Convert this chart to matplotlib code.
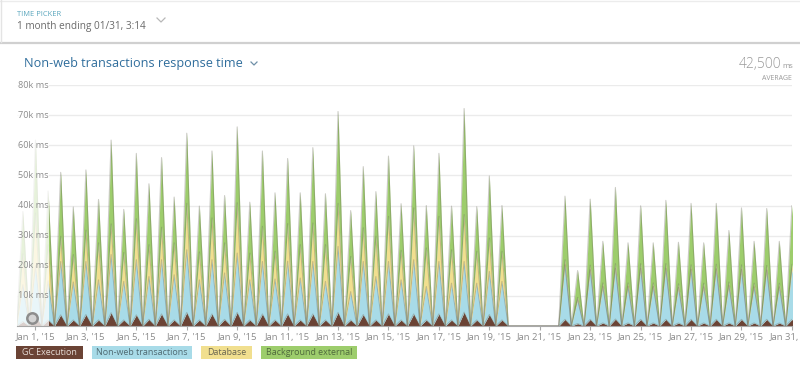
import matplotlib.pyplot as plt
import matplotlib.dates as mdates
from matplotlib.patches import Rectangle
from matplotlib.lines import Line2D
import numpy as np
import pandas as pd

plt.rcParams['font.family'] = ['Open Sans', 'DejaVu Sans']

W, H = 800, 365

# peaks come every 12 hours; the app was down between Jan 19 and Jan 22
times_a = pd.date_range('2014-12-31 12:00', periods=39, freq='12h')
times_b = pd.date_range('2015-01-22 00:00', periods=19, freq='12h')
# 6-hourly timeline, the troughs between peaks sit at 0
timeline = pd.date_range('2014-12-31 06:00', '2015-01-31 06:00', freq='6h')

# response time per peak, in k ms
gc_a = [1.5, 3.5, 2.0, 3.7, 2.0, 3.8, 2.0, 4.4, 2.0, 3.7, 2.2, 4.0, 2.0, 4.5, 2.0, 4.0,
        2.2, 4.5, 2.0, 4.0, 2.0, 4.0, 2.0, 4.0, 2.0, 4.5, 2.0, 3.8, 2.0, 4.0, 2.0, 4.0,
        2.0, 4.0, 2.0, 4.6, 2.0, 3.8, 2.0]
nonweb_a = [12.2, 16.5, 13.0, 17.7, 12.6, 17.6, 13.3, 19.3, 12.8, 18.3, 14.2, 18.0, 15.0,
            20.8, 13.3, 18.0, 15.4, 19.7, 13.3, 17.4, 13.6, 17.5, 13.9, 17.4, 12.8, 21.9,
            9.4, 17.6, 14.4, 17.4, 13.3, 18.0, 11.1, 17.4, 12.2, 16.8, 12.2, 14.3, 12.8]
db_a = [10.3, 17.5, 12.0, 8.4, 9.1, 10.4, 12.3, 10.2, 9.6, 13.6, 10.6, 10.8, 10.6, 15.4,
        9.3, 13.9, 10.0, 16.7, 8.9, 11.7, 9.2, 12.5, 11.1, 12.8, 12.2, 14.3, 11.7, 11.2,
        13.4, 15.0, 9.8, 17.2, 12.8, 15.0, 11.1, 15.6, 10.6, 11.1, 10.0]
bg_a = [14.0, 24.2, 17.8, 21.2, 15.8, 20.0, 14.4, 27.8, 14.3, 21.7, 20.2, 23.1, 15.2, 23.3,
        15.2, 22.2, 15.7, 25.2, 16.9, 25.0, 19.4, 21.6, 17.2, 25.0, 16.9, 30.5, 15.2, 20.3,
        14.8, 20.0, 15.5, 20.6, 14.1, 20.9, 14.5, 35.2, 14.8, 20.6, 15.2]

gc_b = [2.2, 0.8, 2.2, 1.0, 2.3, 1.0, 2.2, 1.0, 2.2, 1.0, 2.2, 1.0, 2.2, 1.0, 2.2, 1.0,
        2.2, 1.0, 2.2]
nonweb_b = [18.1, 7.9, 16.5, 12.1, 16.9, 12.1, 17.0, 12.1, 17.0, 11.8, 16.6, 12.0, 16.8,
            12.4, 16.6, 12.0, 16.4, 12.0, 16.8]
db_b = [1.7, 0.8, 1.5, 1.2, 1.5, 1.2, 1.5, 1.2, 1.5, 1.2, 1.5, 1.2, 1.5, 1.2, 1.5, 1.2,
        1.5, 1.2, 1.5]
bg_b = [21.1, 8.9, 21.9, 13.8, 25.3, 13.3, 19.2, 13.3, 21.0, 13.8, 20.4, 13.4, 20.2, 17.1,
        18.9, 13.9, 18.9, 13.9, 19.5]

names = ['GC Execution', 'Non-web transactions', 'Database', 'Background external']
colors = ['#6b4335', '#a8dbe8', '#f1df8f', '#9dcd6c']
label_colors = ['#e6dcd6', '#4f6a72', '#6a6650', '#4f6a3c']

y_levels = [10, 20, 30, 40, 50, 60, 70, 80]
tick_days = pd.date_range('2015-01-01', '2015-01-31', freq='2D')


def series(a, b):
    s = pd.Series(a + b, index=times_a.append(times_b))
    return s.reindex(timeline, fill_value=0.0).values


layers = [series(gc_a, gc_b), series(nonweb_a, nonweb_b),
          series(db_a, db_b), series(bg_a, bg_b)]
tops = np.cumsum(layers, axis=0)
x = timeline.to_pydatetime()


def fx(px):
    return px / W


def fy(py):
    return 1 - py / H


fig = plt.figure(figsize=(W / 100, H / 100), dpi=100)
fig.patch.set_facecolor('white')

ax = fig.add_axes([fx(17), fy(326), 775 / W, 241 / H])
bottom = np.zeros(len(x))
for i in range(4):
    ax.fill_between(x, bottom, tops[i], color=colors[i], lw=0, zorder=2)
    ax.plot(x, tops[i], color='#6f6f5f', alpha=0.35, lw=0.8, zorder=2.5)
    bottom = tops[i]

for v in y_levels:
    ax.axhline(v, color='#ebebeb', lw=1, zorder=0)

left = pd.Timestamp('2014-12-31 06:25')
right = pd.Timestamp('2015-01-31 00:05')
ax.set_xlim(left, right)
ax.set_ylim(0, 80)

# faded gutter behind the y labels
ax.axvspan(left, pd.Timestamp('2015-01-01 12:25'), color='white', alpha=0.76, lw=0, zorder=3)
for v in y_levels:
    ax.text(0.001, v, f'{v}k ms', transform=ax.get_yaxis_transform(), ha='left', va='center',
            fontsize=6.6, color='#8c8c8c', zorder=4)
ax.plot([pd.Timestamp('2014-12-31 21:00')], [2.6], marker='o', ms=7.5, mfc='#d4d4d4',
        mec='#8d8d8d', mew=1.8, zorder=5, clip_on=False)

for s in ['top', 'left', 'right']:
    ax.spines[s].set_visible(False)
ax.spines['bottom'].set_color('#a8a8a8')
ax.spines['bottom'].set_zorder(6)
ax.set_yticks([])
ax.set_xticks(tick_days)
ax.set_xticklabels([f"Jan {d.day}, '15" for d in tick_days])
ax.tick_params(axis='x', length=3, color='#a8a8a8', labelsize=6.8, labelcolor='#8c8c8c', pad=2)

# legend chips
chips = [(16, 83), (92, 192), (201, 252), (261, 357)]
for (x0, x1), name, c, tc in zip(chips, names, colors, label_colors):
    fig.add_artist(Rectangle((fx(x0), fy(359)), (x1 - x0) / W, 13 / H, transform=fig.transFigure,
                             facecolor=c, edgecolor='none'))
    fig.text(fx((x0 + x1) / 2), fy(352.5), name, ha='center', va='center', fontsize=6.4, color=tc)

# header
fig.add_artist(Line2D([0, 1], [fy(42.5), fy(42.5)], color='#d0d0d0', lw=1.6))
fig.add_artist(Line2D([0, 1], [fy(1), fy(1)], color='#ececec', lw=1))
fig.add_artist(Line2D([fx(1), fx(1)], [fy(0), fy(42)], color='#e4e4e4', lw=1))
fig.text(fx(17), fy(15), 'TIME PICKER', ha='left', va='center', fontsize=5.4, color='#5aa6bd')
fig.text(fx(17), fy(27), '1 month ending 01/31, 3:14', ha='left', va='center', fontsize=7.2,
         color='#6a6a6a')
fig.add_artist(Line2D([fx(157), fx(161), fx(165)], [fy(18), fy(22), fy(18)], color='#b8b8b8', lw=0.9))

fig.text(fx(24), fy(64), 'Non-web transactions response time', ha='left', va='center',
         fontsize=9.1, color='#2f6d9c')
fig.add_artist(Line2D([fx(251), fx(254), fx(257)], [fy(62), fy(65), fy(62)], color='#6f8fa8', lw=0.9))

fig.text(fx(781), fy(64), '42,500', ha='right', va='center', fontsize=10, color='#9a9a9a',
         fontweight='light')
fig.text(fx(782), fy(66), 'ms', ha='left', va='center', fontsize=5.6, color='#9a9a9a')
fig.text(fx(792), fy(78), 'AVERAGE', ha='right', va='center', fontsize=5, color='#9a9a9a')

fig.savefig('out.png', dpi=100)
